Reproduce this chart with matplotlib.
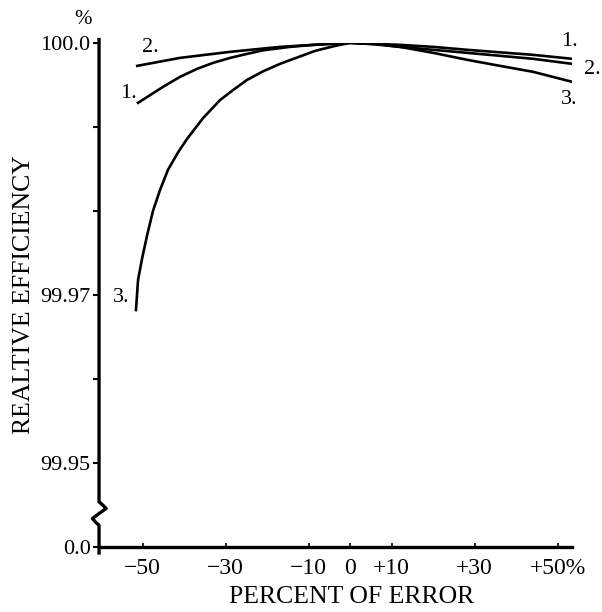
import matplotlib.pyplot as plt
import numpy as np

# relative efficiency curves (percent of error vs efficiency)
x1 = [-51.1, -45.1, -41.0, -36.9, -33.0, -28.9, -24.8, -21.0, -14.5, -8.9, 0,
      12.0, 20.0, 28.2, 36.1, 44.1, 53.5]
y1 = [99.99286, 99.99476, 99.99595, 99.99690, 99.99762, 99.99821, 99.99869,
      99.99911, 99.99952, 99.99976, 100.0, 99.99976, 99.99952, 99.99917,
      99.99887, 99.99857, 99.99810]

x2 = [-51.3, -41.0, -28.9, -16.9, -4.8, 0, 6.0, 12.0, 28.2, 44.1, 53.5]
y2 = [99.99726, 99.99821, 99.99893, 99.99952, 99.99988, 100.0, 99.99982,
      99.99952, 99.99881, 99.99810, 99.99750]

x3 = [-51.6, -51.1, -50.1, -48.9, -47.5, -45.8, -43.9, -41.4, -39.3, -35.4,
      -31.3, -28.0, -24.8, -20.9, -16.9, -8.4, -3.6, 0, 6.0, 12.0, 20.0,
      28.2, 36.1, 44.1, 53.5]
y3 = [99.96821, 99.97179, 99.97440, 99.97714, 99.98000, 99.98250, 99.98488,
      99.98702, 99.98857, 99.99107, 99.99321, 99.99446, 99.99560, 99.99663,
      99.99750, 99.99905, 99.99964, 100.0, 99.99988, 99.99952, 99.99881,
      99.99798, 99.99726, 99.99655, 99.99536]

xticks = [-50, -30, -10, 0, 10, 30, 50]
xlabels = ['\u221250', '\u221230', '\u221210', '0', '+10', '+30', '+50%']
yticks = [99.94, 99.95, 99.97, 100.0]
ylabels = ['0.0', '99.95', '99.97', '100.0']
yminor = [99.96, 99.98, 99.99]

plt.rcParams['font.family'] = ['Liberation Serif', 'DejaVu Serif']

fig = plt.figure(figsize=(6.02, 6.12), dpi=100)
ax = fig.add_axes([0.1645, 0.106, 0.786, 0.824])

for xs, ys in [(x1, y1), (x2, y2), (x3, y3)]:
    ax.plot(xs, ys, color='black', linewidth=1.9, solid_joinstyle='round')

ax.set_xlim(-60.5, 53.5)
ax.set_ylim(99.94, 100.0)

for s in ['top', 'right', 'left']:
    ax.spines[s].set_visible(False)
ax.spines['bottom'].set_linewidth(2.4)

# left spine with a break (zigzag) between 0.0 and 99.95
tr = ax.get_yaxis_transform()
bx = [0, 0, 0.008, 0.015, 0.0, -0.014, -0.006, 0, 0]
by = [100.0004, 99.9454, 99.9450, 99.9446, 99.9440, 99.9434, 99.9429, 99.9426, 99.9393]
ax.plot(bx, by, color='black', linewidth=2.4, transform=tr, clip_on=False,
        solid_joinstyle='round')

ax.set_xticks(xticks)
ax.set_xticklabels(xlabels, fontsize=17)
ax.set_yticks(yticks)
ax.set_yticklabels(ylabels, fontsize=16)
ax.set_yticks(yminor, minor=True)
ax.tick_params(axis='y', which='both', direction='out', length=4, width=1.5, pad=2)
ax.tick_params(axis='x', direction='in', length=3, width=1.2, pad=8)

ax.set_xlabel('PERCENT OF ERROR', fontsize=18.5, labelpad=5, x=0.533)
ax.set_ylabel('REALTIVE EFFICIENCY', fontsize=18.5, labelpad=4)

# percent sign and curve labels
fig.text(83 / 602, 1 - 19 / 612, '%', fontsize=15, ha='center', va='center')
labels = [('2.', 150, 47), ('1.', 128, 93), ('3.', 121, 297),
          ('1.', 569, 42), ('2.', 592, 69), ('3.', 569, 99)]
for t, px, py in labels:
    fig.text(px / 602, 1 - py / 612, t, fontsize=16, ha='center', va='center')

plt.savefig('out.png', dpi=100)
